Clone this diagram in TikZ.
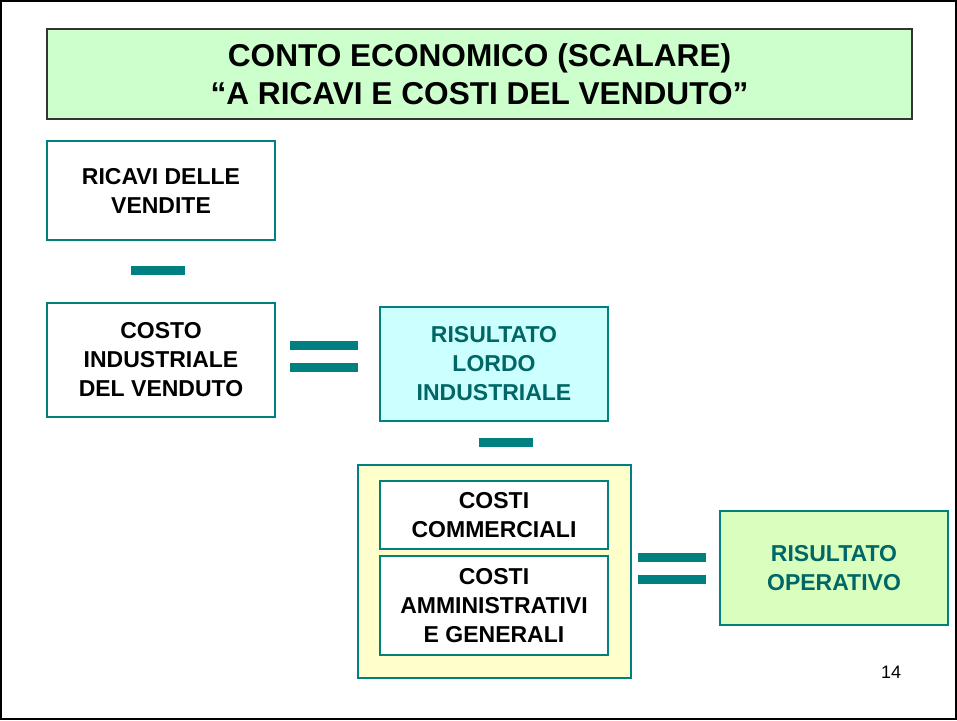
\documentclass[tikz,border=0pt]{standalone}
\usepackage{fontspec}
\setmainfont{Liberation Sans}
\usetikzlibrary{positioning}
\definecolor{frameteal}{RGB}{0,128,128}
\definecolor{textteal}{RGB}{0,102,102}
\definecolor{titlegreen}{RGB}{204,255,204}
\definecolor{lordocyan}{RGB}{204,255,255}
\definecolor{opgreen}{RGB}{216,255,190}
\definecolor{costyellow}{RGB}{255,255,204}

\begin{document}
\begin{tikzpicture}[x=0.5pt, y=-0.5pt,
    box/.style={draw=frameteal, line width=1.2pt, fill=white, align=center, inner sep=0pt,
                minimum width=114pt, font=\fontsize{11.5}{14.5}\selectfont\bfseries},
    result/.style={box, text=textteal},
    bar/.style={fill=frameteal, inner sep=0pt, minimum width=34pt, minimum height=4.5pt}]
    \useasboundingbox (0,0) rectangle (957,720);
    \draw[line width=1pt] (1,1) rectangle (956,719);

    % title
    \node (title) [draw=black!80, line width=0.6pt, fill=titlegreen, minimum width=432.5pt,
        minimum height=45pt, align=center, font=\fontsize{15.8}{19}\selectfont\bfseries]
        at (479.5,74) {CONTO ECONOMICO (SCALARE)\\``A RICAVI E COSTI DEL VENDUTO''};

    % first column
    \node (ricavi) [box, minimum height=49.5pt] at (161,190.5) {RICAVI DELLE\\VENDITE};
    \node (minus1) [bar, minimum width=27pt] at (158,270) {};
    \node (costo) [box, minimum height=57pt] at (161,360) {COSTO\\INDUSTRIALE\\DEL VENDUTO};

    \node (eqa1) [bar] at (324,345) {};
    \node (eqa2) [bar] at (324,367.5) {};

    % lordo
    \node (lordo) [result, fill=lordocyan, minimum height=57pt] at (494,364)
        {RISULTATO\\LORDO\\INDUSTRIALE};
    \node (minus2) [bar, minimum width=27pt] at (506,442.5) {};

    % costs group
    \node (gruppo) [draw=frameteal, line width=1.2pt, fill=costyellow, minimum width=136.5pt,
        minimum height=106.5pt, inner sep=0pt] at (494.5,571.5) {};
    \node (commerciali) [box, minimum height=34pt] at (494,515) {COSTI\\COMMERCIALI};
    \node (amministrativi) [box, minimum height=49.5pt] at (494,605.5)
        {COSTI\\AMMINISTRATIVI\\E GENERALI};

    \node (eqb1) [bar] at (672,557.5) {};
    \node (eqb2) [bar] at (672,579.5) {};

    % operativo
    \node (operativo) [result, fill=opgreen, minimum height=57pt] at (834,568)
        {RISULTATO\\OPERATIVO};

    \node (pagina) [font=\fontsize{9}{11}\selectfont] at (891,672) {14};
\end{tikzpicture}
\end{document}
